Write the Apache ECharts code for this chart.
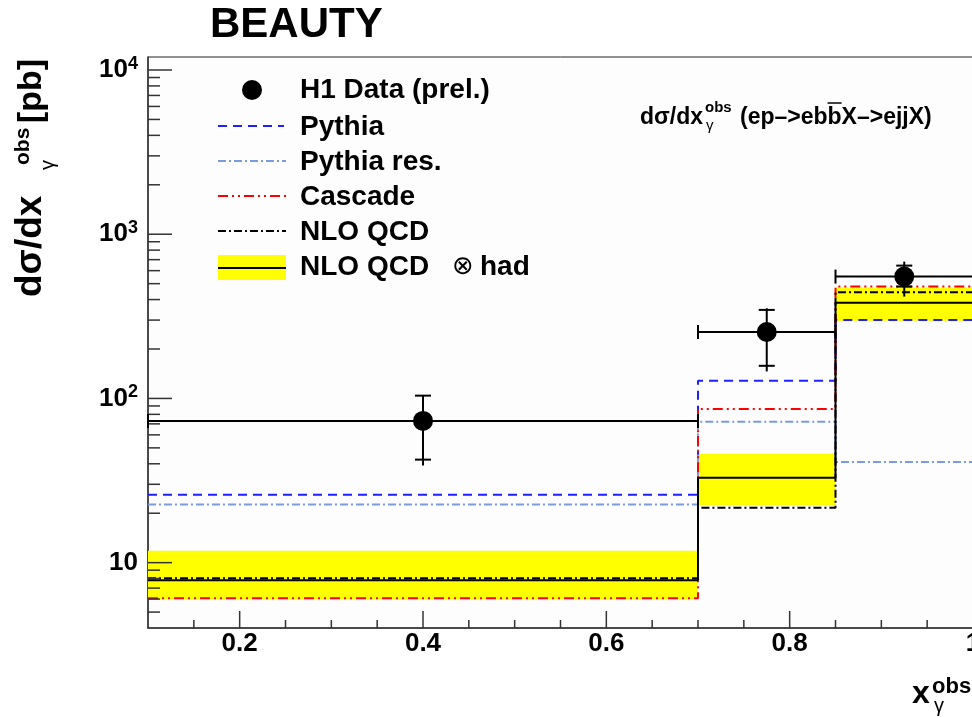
<!DOCTYPE html>
<html><head><meta charset="utf-8">
<script src="https://cdn.jsdelivr.net/npm/echarts@6/dist/echarts.min.js"></script>
<style>html,body{margin:0;padding:0;background:#fff}#c{width:972px;height:718px}</style>
</head><body><div id="c"></div>
<script>
// ---- data ----
const binEdges = [0.1, 0.7, 0.85, 1.0];
const dataX = [0.4, 0.775, 0.925];
const dataY = [73, 254, 552];
const statLo = [42.4, 158, 480];
const statHi = [104, 346, 644];
const totLo = [39, 146, 417];
const totHi = [105, 354, 681];
const pythia = [25.9, 128, 300];
const pythiaRes = [22.6, 72.1, 41.0];
const cascade = [6.07, 86.2, 480];
const nlo = [8.03, 21.6, 443];
const nloHad = [7.8, 32.9, 383];
const nloHadLo = [5.98, 22.3, 297];
const nloHadHi = [11.8, 46.0, 473];
const xMajorTicks = [0.2, 0.4, 0.6, 0.8, 1.0];
const xMinorTicks = [0.15, 0.25, 0.3, 0.35, 0.45, 0.5, 0.55, 0.65, 0.7, 0.75, 0.85, 0.9, 0.95];
const yMajorTicks = [10, 100, 1000, 10000];
const yMinorTicks = [5, 6, 7, 8, 9, 20, 30, 40, 50, 60, 70, 80, 90, 200, 300, 400, 500, 600, 700, 800, 900, 2000, 3000, 4000, 5000, 6000, 7000, 8000, 9000];

const FF = '"Liberation Sans", Arial, Helvetica, sans-serif';
const mctx = document.createElement('canvas').getContext('2d');
function tw(t, size, weight) { mctx.font = (weight || 'bold') + ' ' + size + 'px ' + FF; return mctx.measureText(t).width; }

function stepData(vals) {
  const d = [];
  for (let i = 0; i < vals.length; i++) d.push([binEdges[i], vals[i]]);
  d.push([binEdges[binEdges.length - 1], vals[vals.length - 1]]);
  return d;
}
function lineSeries(name, vals, color, dash, z) {
  return { type: 'line', name, data: stepData(vals), step: 'end', symbol: 'none', silent: true, z: z || 3,
    lineStyle: { color, width: 2, type: dash }, animation: false };
}
function tickSeries(vals, axis, len) {
  return { type: 'custom', coordinateSystem: 'cartesian2d', clip: false, silent: true, z: 6, animation: false,
    data: vals.map(v => axis === 'x' ? [v, 4] : [0.1, v]),
    renderItem: (p, api) => {
      const c = api.coord([api.value(0), api.value(1)]);
      const s = axis === 'x' ? { x1: c[0], y1: c[1], x2: c[0], y2: c[1] - len } : { x1: c[0], y1: c[1], x2: c[0] + len, y2: c[1] };
      return { type: 'line', shape: s, style: { stroke: '#333', lineWidth: 1.5 } };
    } };
}
function T(text, x, y, size, o) {
  o = o || {};
  return { type: 'text', x, y, silent: true, style: { text, font: (o.weight || 'bold') + ' ' + size + 'px ' + (o.family || FF), fill: '#000',
    align: o.align || 'left', verticalAlign: o.va || 'middle', textAlign: o.align || 'left', textVerticalAlign: o.va || 'middle' } };
}

const chart = echarts.init(document.getElementById('c'), null, { renderer: 'canvas' });

// annotation pieces
const annSize = 23;
const annX = 740;
const p1 = '(ep–>eb', p2 = 'b', p3 = 'X–>ejjX)';
const w1 = tw(p1, annSize), w2 = tw(p2, annSize);

const ySize = 37;
const pbSize = 34;
const wPb = tw('[pb]', pbSize);

const graphics = [
  T('BEAUTY', 210, 25, 42),
  // y title (rotated)
  { type: 'group', x: 44, y: 297, rotation: Math.PI / 2, children: [
    T('dσ/dx', 0, -13, ySize),
    T('obs', 132, -21, 21),
    T('γ', 127, 4, 20, { weight: 'normal' }),
    T('[pb]', 238 - wPb, -12, pbSize)
  ] },
  // x title
  T('x', 912, 694, 32),
  T('obs', 932, 687, 22),
  T('γ', 934, 706, 20, { weight: 'normal' }),
  // annotation
  T('dσ/dx', 640, 118, annSize),
  T('obs', 705, 108, 15),
  T('γ', 706, 126, 15, { weight: 'normal' }),
  T(p1, annX, 118, annSize),
  T(p2, annX + w1, 118, annSize),
  { type: 'line', silent: true, shape: { x1: annX + w1, y1: 103, x2: annX + w1 + w2, y2: 103 }, style: { stroke: '#000', lineWidth: 1.5 } },
  T(p3, annX + w1 + w2, 118, annSize),
  // legend
  { type: 'circle', silent: true, shape: { cx: 252, cy: 90, r: 10 }, style: { fill: '#000' } },
  T('H1 Data (prel.)', 300, 90, 28),
  { type: 'line', silent: true, shape: { x1: 218, y1: 126, x2: 284, y2: 126 }, style: { stroke: '#1f1fff', lineWidth: 2, lineDash: [9, 6] } },
  T('Pythia', 300, 127, 28),
  { type: 'line', silent: true, shape: { x1: 218, y1: 161, x2: 286, y2: 161 }, style: { stroke: '#7b9bdc', lineWidth: 2, lineDash: [8, 3, 2, 3] } },
  T('Pythia res.', 300, 162, 28),
  { type: 'line', silent: true, shape: { x1: 218, y1: 196, x2: 286, y2: 196 }, style: { stroke: '#ff0000', lineWidth: 2, lineDash: [10, 4, 2, 4, 2, 4] } },
  T('Cascade', 300, 197, 28),
  { type: 'line', silent: true, shape: { x1: 218, y1: 231, x2: 286, y2: 231 }, style: { stroke: '#000', lineWidth: 2, lineDash: [8, 3, 2, 3] } },
  T('NLO QCD', 300, 232, 28),
  { type: 'rect', silent: true, shape: { x: 218, y: 255, width: 68, height: 25 }, style: { fill: '#ffff00' } },
  { type: 'line', silent: true, shape: { x1: 218, y1: 268, x2: 286, y2: 268 }, style: { stroke: '#000', lineWidth: 2 } },
  T('NLO QCD', 300, 267, 28),
  T('⊗', 452, 267, 26, { weight: 'normal', family: '"DejaVu Sans", sans-serif' }),
  T('had', 480, 267, 28)
];

const option = {
  animation: false,
  backgroundColor: '#ffffff',
  grid: { left: 148, right: -1, top: 57, bottom: 90, containLabel: false, outerBoundsMode: 'none',
    show: true, backgroundColor: '#fdfdfd', borderColor: '#222', borderWidth: 1 },
  xAxis: { type: 'value', min: 0.1, max: 1.0, interval: 0.1,
    axisLine: { show: true, onZero: false, lineStyle: { color: '#333', width: 1.5 } },
    axisTick: { show: false }, splitLine: { show: false },
    axisLabel: { margin: 3, fontSize: 26, fontWeight: 'bold', fontFamily: FF, color: '#000', hideOverlap: false,
      formatter: v => { const r = Math.round(v * 10); if (r % 2 !== 0) return ''; return r === 10 ? '1' : (r / 10).toFixed(1); } } },
  yAxis: { type: 'log', logBase: 10, min: 4, max: 12000,
    axisLine: { show: true, lineStyle: { color: '#333', width: 1.5 } },
    axisTick: { show: false }, splitLine: { show: false }, minorTick: { show: false },
    axisLabel: { margin: 10, showMinLabel: false, showMaxLabel: false,
      formatter: v => { const l = Math.log10(v); const e = Math.round(l); if (Math.abs(l - e) > 1e-6) return ''; if (e === 1) return '{b|10}'; return '{b|10}{s|' + e + '}'; },
      rich: { b: { fontSize: 26, fontWeight: 'bold', fontFamily: FF, color: '#000', lineHeight: 30 },
              s: { fontSize: 18, fontWeight: 'bold', fontFamily: FF, color: '#000', lineHeight: 18, verticalAlign: 'top' } } } },
  graphic: graphics,
  series: [
    { type: 'custom', coordinateSystem: 'cartesian2d', silent: true, z: 2, animation: false,
      data: nloHad.map((v, i) => [binEdges[i], nloHadLo[i], binEdges[i + 1], nloHadHi[i]]),
      encode: { x: [0, 2], y: [1, 3] },
      renderItem: (p, api) => {
        const a = api.coord([api.value(0), api.value(3)]);
        const b = api.coord([api.value(2), api.value(1)]);
        return { type: 'rect', shape: { x: a[0], y: a[1], width: b[0] - a[0], height: b[1] - a[1] }, style: { fill: '#ffff00' } };
      } },
    lineSeries('Pythia', pythia, '#1f1fff', [9, 6]),
    lineSeries('Pythia res.', pythiaRes, '#7b9bdc', [8, 3, 2, 3]),
    lineSeries('Cascade', cascade, '#ff0000', [10, 4, 2, 4, 2, 4]),
    lineSeries('NLO QCD', nlo, '#000000', [8, 3, 2, 3]),
    lineSeries('NLO QCD had', nloHad, '#000000', 'solid', 4),
    { type: 'custom', coordinateSystem: 'cartesian2d', silent: true, z: 8, animation: false,
      data: dataX.map((x, i) => [x, dataY[i], statLo[i], statHi[i], totLo[i], totHi[i], binEdges[i], binEdges[i + 1]]),
      encode: { x: 0, y: 1 },
      renderItem: (p, api) => {
        const c = api.coord([api.value(0), api.value(1)]);
        const sl = api.coord([api.value(0), api.value(2)])[1];
        const sh = api.coord([api.value(0), api.value(3)])[1];
        const tl = api.coord([api.value(0), api.value(4)])[1];
        const th = api.coord([api.value(0), api.value(5)])[1];
        const x0 = api.coord([api.value(6), api.value(1)])[0];
        const x1 = api.coord([api.value(7), api.value(1)])[0];
        const st = { stroke: '#000', lineWidth: 2 };
        return { type: 'group', children: [
          { type: 'line', shape: { x1: x0, y1: c[1], x2: x1, y2: c[1] }, style: st },
          { type: 'line', shape: { x1: x0, y1: c[1] - 7, x2: x0, y2: c[1] + 7 }, style: st },
          { type: 'line', shape: { x1: x1, y1: c[1] - 7, x2: x1, y2: c[1] + 7 }, style: st },
          { type: 'line', shape: { x1: c[0], y1: tl, x2: c[0], y2: th }, style: st },
          { type: 'line', shape: { x1: c[0] - 8, y1: sl, x2: c[0] + 8, y2: sl }, style: st },
          { type: 'line', shape: { x1: c[0] - 8, y1: sh, x2: c[0] + 8, y2: sh }, style: st },
          { type: 'circle', shape: { cx: c[0], cy: c[1], r: 10 }, style: { fill: '#000' } }
        ] };
      } },
    tickSeries(xMajorTicks, 'x', 17),
    tickSeries(xMinorTicks, 'x', 8),
    tickSeries(yMajorTicks, 'y', 24),
    tickSeries(yMinorTicks, 'y', 12)
  ]
};
chart.setOption(option);
</script></body></html>
